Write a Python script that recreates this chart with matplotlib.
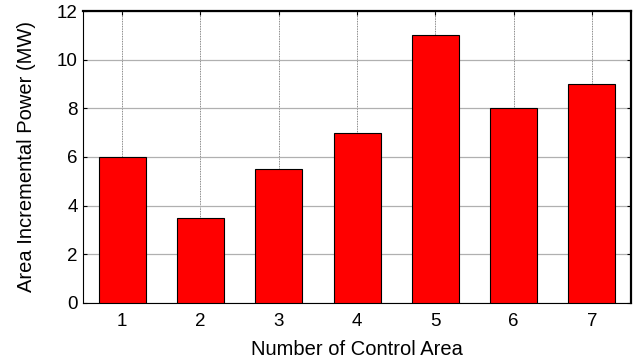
import numpy as np
import matplotlib
matplotlib.use("Agg")
import matplotlib.pyplot as plt

plt.rcParams["font.family"] = ["Liberation Sans", "DejaVu Sans"]

# incremental power per control area
areas = [1, 2, 3, 4, 5, 6, 7]
power_mw = [6, 3.5, 5.5, 7, 11, 8, 9]
y_ticks = [0, 2, 4, 6, 8, 10, 12]

fig = plt.figure(figsize=(6.39, 3.62), dpi=100)
ax = fig.add_axes([0.130, 0.163, 0.8575, 0.8066])

ax.bar(areas, power_mw, width=0.6, color="#ff0000", edgecolor="black",
       linewidth=0.8, zorder=3)

ax.set_xlim(0.5, 7.5)
ax.set_ylim(0, 12)
ax.set_xticks(areas)
ax.set_yticks(y_ticks)

# grid: solid grey horizontals, dotted verticals
ax.yaxis.grid(True, color="#b0b0b0", linewidth=0.9, linestyle="-", zorder=0)
ax.xaxis.grid(True, color="#606060", linewidth=0.6, linestyle=(0, (1, 1)), zorder=0)
ax.set_axisbelow(True)

ax.tick_params(direction="in", length=3, width=0.8, top=True, right=True,
               labelsize=13.5)
ax.tick_params(axis="x", pad=7.5)
ax.tick_params(axis="y", pad=4)
for side in ["top", "right"]:
    ax.spines[side].set_linewidth(1.6)
for side in ["left", "bottom"]:
    ax.spines[side].set_linewidth(0.8)

ax.set_xlabel("Number of Control Area", fontsize=14.5, labelpad=7)
ax.set_ylabel("Area Incremental Power (MW)", fontsize=14.5, labelpad=15)

fig.savefig("out.png", dpi=100)
